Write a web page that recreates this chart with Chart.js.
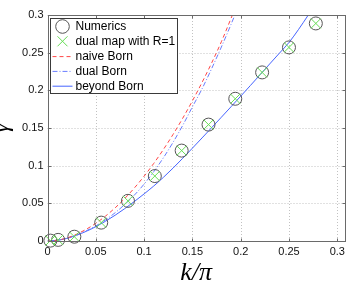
<!DOCTYPE html>
<html><head><meta charset="utf-8">
<script src="https://cdn.jsdelivr.net/npm/chart.js@4.4.1/dist/chart.umd.min.js"></script>
<style>html,body{margin:0;padding:0;background:#fff;overflow:hidden}</style>
</head><body>
<canvas id="c" width="353" height="286" style="display:block;width:353px;height:286px"></canvas>
<script>
// ---- data ----
const seriesLabels = ['Numerics', 'dual map with R=1', 'naive Born', 'dual Born', 'beyond Born'];
const kNumerics     = [0.003, 0.011, 0.0278, 0.0556, 0.0833, 0.1111, 0.1389, 0.1667, 0.1944, 0.2222, 0.25, 0.2778];
const gammaNumerics = [0.0005, 0.0015, 0.0057, 0.0244, 0.0533, 0.0862, 0.120, 0.1545, 0.1888, 0.2238, 0.257, 0.2888];
const kDualMap      = [0.003, 0.011, 0.0278, 0.0556, 0.0833, 0.1111, 0.1389, 0.1667, 0.1944, 0.2222, 0.25, 0.2778];
const gammaDualMap  = [0.0005, 0.0015, 0.0057, 0.0244, 0.0533, 0.0862, 0.120, 0.1545, 0.1888, 0.2238, 0.257, 0.2888];
const kBorn         = [0, 0.01, 0.02, 0.03, 0.04, 0.05, 0.06, 0.07, 0.08, 0.09, 0.10, 0.11, 0.12, 0.13, 0.14, 0.15, 0.16, 0.17, 0.18, 0.19, 0.20];
const gammaNaiveBorn= [0, 0.001, 0.004, 0.009, 0.0155, 0.0235, 0.033, 0.044, 0.0565, 0.0705, 0.086, 0.103, 0.1215, 0.1415, 0.163, 0.186, 0.2105, 0.2365, 0.2645, 0.2955, 0.327];
const gammaDualBorn = [0, 0.001, 0.0035, 0.008, 0.0135, 0.020, 0.028, 0.0375, 0.0485, 0.061, 0.0755, 0.092, 0.1105, 0.131, 0.1535, 0.178, 0.202, 0.229, 0.2575, 0.2875, 0.319];
const kBeyond       = [0, 0.01, 0.02, 0.03, 0.04, 0.05, 0.06, 0.07, 0.08, 0.09, 0.10, 0.11, 0.12, 0.13, 0.14, 0.15, 0.16, 0.17, 0.18, 0.19, 0.20, 0.21, 0.22, 0.23, 0.24, 0.25, 0.26, 0.27, 0.28];
const gammaBeyond   = [0, 0.001, 0.0035, 0.0075, 0.0128, 0.019, 0.0262, 0.0342, 0.043, 0.0525, 0.0625, 0.073, 0.0845, 0.0968, 0.1098, 0.1232, 0.1368, 0.1505, 0.1643, 0.1782, 0.1922, 0.2063, 0.2206, 0.2350, 0.2492, 0.2635, 0.2810, 0.3000, 0.3200];
const xTickValues = [0, 0.05, 0.1, 0.15, 0.2, 0.25, 0.3];
const xTickLabels = ['0', '0.05', '0.1', '0.15', '0.2', '0.25', '0.3'];
const yTickValues = [0, 0.05, 0.1, 0.15, 0.2, 0.25, 0.3];
const yTickLabels = ['0', '0.05', '0.1', '0.15', '0.2', '0.25', '0.3'];
const xTitle = 'k/π';
const yTitle = 'γ';

const pts = (xs, ys) => xs.map((x, i) => ({x: x, y: ys[i]}));

const styles = [
  {kind: 'circle', color: '#555555'},
  {kind: 'cross', color: '#66dd55'},
  {kind: 'line', color: 'rgb(255,70,70)', dash: [4, 3]},
  {kind: 'line', color: 'rgb(105,125,255)', dash: [5, 2, 1, 2]},
  {kind: 'line', color: 'rgb(70,100,255)', dash: []}
];

const framePlugin = {
  id: 'frame',
  beforeDatasetsDraw(chart) {
    const {ctx, chartArea: a, scales: {x, y}} = chart;
    ctx.save();
    ctx.strokeStyle = '#c2c2c2';
    ctx.lineWidth = 1;
    ctx.setLineDash([1, 2]);
    xTickValues.forEach(v => {
      const p = Math.round(x.getPixelForValue(v)) + 0.5;
      ctx.beginPath(); ctx.moveTo(p, a.top); ctx.lineTo(p, a.bottom); ctx.stroke();
    });
    yTickValues.forEach(v => {
      const p = Math.round(y.getPixelForValue(v)) + 0.5;
      ctx.beginPath(); ctx.moveTo(a.left, p); ctx.lineTo(a.right, p); ctx.stroke();
    });
    ctx.restore();
  },
  afterDatasetsDraw(chart) {
    const {ctx, chartArea: a, scales: {x, y}} = chart;
    ctx.save();
    ctx.strokeStyle = '#6a6a6a';
    ctx.lineWidth = 1;
    const L = Math.round(a.left) + 0.5, R = Math.round(a.right) + 0.5, T = Math.round(a.top) + 0.5, B = Math.round(a.bottom) + 0.5;
    ctx.strokeRect(L, T, R - L, B - T);
    ctx.beginPath();
    xTickValues.forEach(v => {
      const p = Math.round(x.getPixelForValue(v)) + 0.5;
      ctx.moveTo(p, B); ctx.lineTo(p, B - 3);
      ctx.moveTo(p, T); ctx.lineTo(p, T + 3);
    });
    yTickValues.forEach(v => {
      const p = Math.round(y.getPixelForValue(v)) + 0.5;
      ctx.moveTo(L, p); ctx.lineTo(L + 3, p);
      ctx.moveTo(R, p); ctx.lineTo(R - 3, p);
    });
    ctx.stroke();
    ctx.restore();
  },
  afterDraw(chart) {
    const {ctx, chartArea: a} = chart;
    const bx = Math.round(a.left) + 2.5, by = Math.round(a.top) + 3.5;
    const bw = 127, bh = 75, rowH = 14.8;
    ctx.save();
    ctx.fillStyle = '#fff';
    ctx.fillRect(bx, by, bw, bh);
    ctx.strokeStyle = '#3a3a3a';
    ctx.lineWidth = 1;
    ctx.strokeRect(bx, by, bw, bh);
    ctx.font = '12px "Liberation Sans", Arial, sans-serif';
    ctx.textBaseline = 'middle';
    ctx.textAlign = 'left';
    seriesLabels.forEach((lab, i) => {
      const cy = by + 8 + i * rowH;
      const s = styles[i];
      const sx0 = bx + 2, sx1 = bx + 22, cx = (sx0 + sx1) / 2;
      ctx.lineWidth = 1;
      ctx.strokeStyle = s.color;
      ctx.setLineDash([]);
      if (s.kind === 'circle') {
        ctx.beginPath(); ctx.arc(cx, cy, 6.8, 0, Math.PI * 2); ctx.stroke();
      } else if (s.kind === 'cross') {
        ctx.beginPath();
        ctx.moveTo(cx - 5, cy - 5); ctx.lineTo(cx + 5, cy + 5);
        ctx.moveTo(cx + 5, cy - 5); ctx.lineTo(cx - 5, cy + 5);
        ctx.stroke();
      } else {
        ctx.setLineDash(s.dash);
        ctx.beginPath(); ctx.moveTo(sx0, cy + 0.5); ctx.lineTo(sx1, cy + 0.5); ctx.stroke();
      }
      ctx.setLineDash([]);
      ctx.fillStyle = '#000';
      ctx.fillText(lab, bx + 25, cy + 0.5);
    });
    ctx.restore();
  }
};

const tickFont = {family: '"Liberation Sans", Arial, sans-serif', size: 11};

new Chart(document.getElementById('c'), {
  type: 'scatter',
  data: {
    datasets: [
      {label: seriesLabels[1], data: pts(kDualMap, gammaDualMap), pointStyle: 'crossRot', pointRadius: 7,
       borderColor: styles[1].color, backgroundColor: 'transparent', borderWidth: 1, showLine: false, clip: false},
      {label: seriesLabels[0], data: pts(kNumerics, gammaNumerics), pointStyle: 'circle', pointRadius: 6.5,
       borderColor: styles[0].color, backgroundColor: 'transparent', borderWidth: 1, showLine: false, clip: false},
      {label: seriesLabels[2], data: pts(kBorn, gammaNaiveBorn), showLine: true, pointRadius: 0,
       borderColor: styles[2].color, borderWidth: 1, borderDash: styles[2].dash, cubicInterpolationMode: 'monotone', fill: false},
      {label: seriesLabels[3], data: pts(kBorn, gammaDualBorn), showLine: true, pointRadius: 0,
       borderColor: styles[3].color, borderWidth: 1, borderDash: styles[3].dash, cubicInterpolationMode: 'monotone', fill: false},
      {label: seriesLabels[4], data: pts(kBeyond, gammaBeyond), showLine: true, pointRadius: 0,
       borderColor: styles[4].color, borderWidth: 1, cubicInterpolationMode: 'monotone', fill: false}
    ]
  },
  options: {
    responsive: false,
    animation: false,
    devicePixelRatio: 1,
    layout: {padding: {top: 15, right: 7, left: 0, bottom: 0}},
    plugins: {legend: {display: false}, tooltip: {enabled: false}},
    scales: {
      x: {
        type: 'linear', min: 0, max: 0.308,
        afterBuildTicks: s => { s.ticks = xTickValues.map(v => ({value: v})); },
        afterFit: s => { s.height = 45; },
        ticks: {callback: (v, i) => xTickLabels[i], font: tickFont, color: '#111', padding: 4, maxRotation: 0, autoSkip: false},
        grid: {display: false, drawTicks: false},
        border: {display: false},
        title: {display: true, text: xTitle, color: '#000',
                font: {family: '"Liberation Serif", "DejaVu Serif", serif', style: 'italic', size: 26, lineHeight: 1},
                padding: {top: 0, bottom: 0}}
      },
      y: {
        type: 'linear', min: 0, max: 0.3,
        afterBuildTicks: s => { s.ticks = yTickValues.map(v => ({value: v})); },
        afterFit: s => { s.width = 47.5; },
        ticks: {callback: (v, i) => yTickLabels[i], font: tickFont, color: '#111', padding: 4, autoSkip: false},
        grid: {display: false, drawTicks: false},
        border: {display: false},
        title: {display: true, text: yTitle, color: '#000',
                font: {family: '"Liberation Serif", "DejaVu Serif", serif', style: 'italic', size: 24, lineHeight: 1},
                padding: {top: -10, bottom: 0}}
      }
    }
  },
  plugins: [framePlugin]
});
</script>
</body></html>
